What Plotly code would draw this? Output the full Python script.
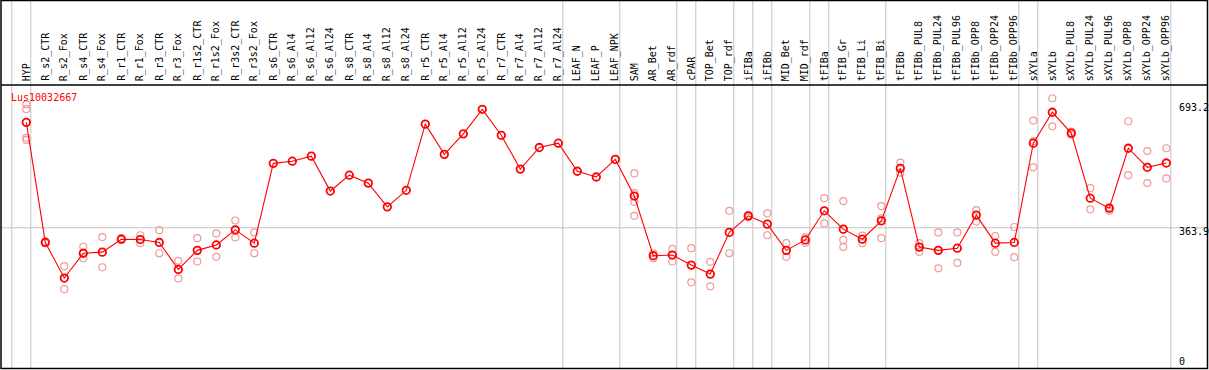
import plotly.graph_objects as go

gene = "Lus10032667"

categories = [
    "HYP", "R_s2_CTR", "R_s2_Fox", "R_s4_CTR", "R_s4_Fox", "R_r1_CTR", "R_r1_Fox",
    "R_r3_CTR", "R_r3_Fox", "R_r1s2_CTR", "R_r1s2_Fox", "R_r3s2_CTR", "R_r3s2_Fox",
    "R_s6_CTR", "R_s6_Al4", "R_s6_Al12", "R_s6_Al24", "R_s8_CTR", "R_s8_Al4",
    "R_s8_Al12", "R_s8_Al24", "R_r5_CTR", "R_r5_Al4", "R_r5_Al12", "R_r5_Al24",
    "R_r7_CTR", "R_r7_Al4", "R_r7_Al12", "R_r7_Al24", "LEAF_N", "LEAF_P", "LEAF_NPK",
    "SAM", "AR_Bet", "AR_rdf", "cPAR", "TOP_Bet", "TOP_rdf", "iFIBa", "iFIBb",
    "MID_Bet", "MID_rdf", "tFIBa", "tFIB_Gr", "tFIB_Li", "tFIB_Bi", "tFIBb",
    "tFIBb_PUL8", "tFIBb_PUL24", "tFIBb_PUL96", "tFIBb_OPP8", "tFIBb_OPP24",
    "tFIBb_OPP96", "sXYLa", "sXYLb", "sXYLb_PUL8", "sXYLb_PUL24", "sXYLb_PUL96",
    "sXYLb_OPP8", "sXYLb_OPP24", "sXYLb_OPP96",
]

means = [
    657, 323, 224, 293, 296, 332, 331, 323, 248, 301, 316, 358, 321,
    543, 549, 563, 466, 510, 488, 422, 468, 652, 568, 625, 693.2, 621, 527, 587, 599,
    521, 505, 554,
    452, 286, 288, 260, 235, 351, 397, 374, 301, 330, 411, 360, 332, 383, 529,
    310, 301, 307, 399, 321, 323, 599, 685, 627, 446, 418, 585, 532, 544,
]

replicates = [
    [707, 694, 614, 608], [326, 321, 323], [257, 224, 193], [311, 293, 279],
    [338, 254], [335, 330], [343, 321], [357, 323, 293], [272, 248, 223],
    [335, 270], [348, 283], [384, 337], [351, 293],
    [], [], [], [], [], [], [], [], [], [], [], [], [], [], [], [], [], [], [],
    [515, 460, 436, 397], [293, 279], [305, 270], [307, 212], [269, 201],
    [411, 293], [399, 393], [404, 343], [321, 283], [337, 322], [446, 376],
    [438, 330, 310], [342, 321], [424, 390, 335], [545, 517], [321, 297],
    [351, 251], [351, 266], [413, 381], [341, 297], [366, 282],
    [662, 605, 532], [724, 646], [631, 622], [474, 415], [421, 411],
    [660, 510], [577, 488], [585, 501],
]

tick_values = [0, 363.9, 693.2]
tick_labels = ["0", "363.9", "693.2"]
group_breaks = [-1, 0, 28, 31, 34, 35, 37, 38, 39, 41, 42, 45, 52, 53, 60]

W, H = 1209, 370
FONT = "DejaVu Sans Mono"
RED = "#FF0000"
LIGHT = "#F09A9A"
GRID = "#C4C4C4"

# pixel geometry of axes
x0_px, dx_px = 26.3, 19.0
zero_px, k_px = 358.6, 0.3596
xr = [-x0_px / dx_px, (W - x0_px) / dx_px]
yr = [-(H - zero_px) / k_px, zero_px / k_px]

def py(v_px):
    return 1 - v_px / H

def px(h_px):
    return h_px / W

xs = list(range(len(categories)))
rep_x, rep_y = [], []
for i, reps in enumerate(replicates):
    for r in reps:
        rep_x.append(i)
        rep_y.append(r)

fig = go.Figure()
fig.add_trace(go.Scatter(
    x=rep_x, y=rep_y, mode="markers",
    marker=dict(symbol="circle-open", size=7, color=LIGHT, line=dict(width=1.2, color=LIGHT)),
    showlegend=False, hoverinfo="skip",
))
fig.add_trace(go.Scatter(
    x=xs, y=means, mode="lines+markers",
    line=dict(color=RED, width=1.1),
    marker=dict(symbol="circle-open", size=7.5, color=RED, line=dict(width=1.8, color=RED)),
    showlegend=False,
))

shapes = []
for b in group_breaks:
    xb = b + 4.5 / dx_px
    shapes.append(dict(type="line", xref="x", yref="paper", x0=xb, x1=xb,
                       y0=py(368), y1=1, line=dict(color=GRID, width=1), layer="below"))
shapes.append(dict(type="line", xref="paper", yref="y", x0=px(1), x1=px(1207.5),
                   y0=tick_values[1], y1=tick_values[1],
                   line=dict(color=GRID, width=1), layer="below"))
shapes.append(dict(type="rect", xref="paper", yref="paper", x0=px(1), x1=px(1207.5),
                   y0=py(368.5), y1=py(0.5), line=dict(color="black", width=1.5)))
shapes.append(dict(type="line", xref="paper", yref="paper", x0=px(1), x1=px(1207.5),
                   y0=py(85), y1=py(85), line=dict(color="black", width=1.5)))

annotations = []
label_base = (zero_px - 83) / k_px
for i, c in enumerate(categories):
    annotations.append(dict(x=i, y=label_base, xref="x", yref="y", text=c,
                            textangle=-90, showarrow=False, xanchor="center",
                            yanchor="bottom", font=dict(family=FONT, size=10, color="black")))
tick_shift = [-3, -4, 2]
for v, t, s in zip(tick_values, tick_labels, tick_shift):
    annotations.append(dict(x=px(1177), y=v, xref="paper", yref="y", text=t,
                            showarrow=False, xanchor="left", yanchor="middle", yshift=s,
                            font=dict(family=FONT, size=10, color="black")))
annotations.append(dict(x=px(9), y=py(97), xref="paper", yref="paper", text=gene,
                        showarrow=False, xanchor="left", yanchor="middle",
                        font=dict(family=FONT, size=10, color=RED)))

fig.update_layout(
    width=W, height=H,
    margin=dict(l=0, r=0, t=0, b=0, pad=0),
    paper_bgcolor="white", plot_bgcolor="white",
    xaxis=dict(range=xr, visible=False, fixedrange=True),
    yaxis=dict(range=yr, visible=False, fixedrange=True),
    shapes=shapes, annotations=annotations,
    showlegend=False,
)
fig.write_html("out.html", config={"displayModeBar": False},
               post_script="document.body.style.margin='0';document.body.style.overflow='hidden';")
